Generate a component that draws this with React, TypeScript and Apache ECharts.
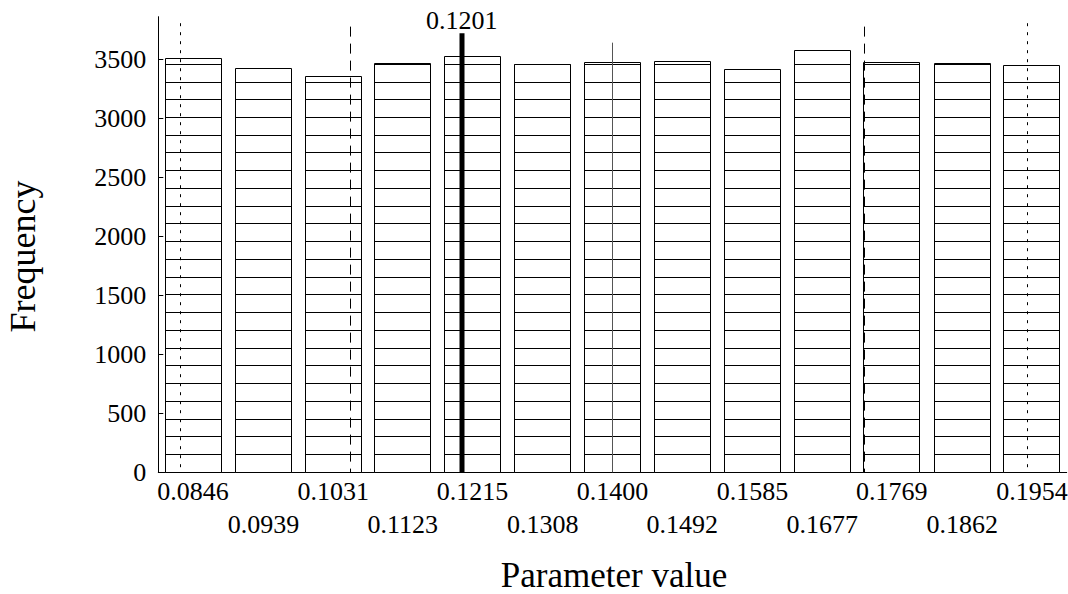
import React, { useEffect, useRef } from "react";
import * as echarts from "echarts";

// Bin centres (tick labels) and frequencies
const binCenters = [0.0846, 0.0939, 0.1031, 0.1123, 0.1215, 0.1308, 0.14, 0.1492, 0.1585, 0.1677, 0.1769, 0.1862, 0.1954];
const frequencies = [3503, 3420, 3356, 3460, 3522, 3459, 3471, 3483, 3415, 3576, 3475, 3466, 3446];
// height of each inner stacked block
const blockSize = 150.3;
const yTicks = [0, 500, 1000, 1500, 2000, 2500, 3000, 3500];

// Vertical reference lines
const refX = [0.0829, 0.1054, 0.1201, 0.14, 0.1733, 0.1948];
const refTop = [3805, 3776, 3720, 3640, 3776, 3805];
const refKind = ["dotted", "dashed", "thick", "thin", "dashed", "dotted"];
const refLabel = ["", "", "0.1201", "", "", ""];

const FONT = "Liberation Serif";

const snap = (v: number) => Math.round(v - 0.5) + 0.5;

export default function App() {
  const ref = useRef<HTMLDivElement>(null);
  useEffect(() => {
    const chart = echarts.init(ref.current!, null, { renderer: "svg" });
    const halfW = 0.0037;
    const xAxisBase = {
      type: "value",
      min: 0.08,
      max: 0.2,
      position: "bottom",
      splitLine: { show: false },
      axisLabel: {
        fontFamily: FONT,
        fontSize: 26,
        color: "#000",
        formatter: (v: number) => v.toFixed(4),
      },
    };
    chart.setOption({
      animation: false,
      backgroundColor: "#fff",
      grid: { left: 158.3, right: 1.3, top: 16.7, bottom: 121.7, outerBoundsMode: "none" },
      xAxis: [
        {
          ...xAxisBase,
          axisLine: { show: true, lineStyle: { color: "#000", width: 1 } },
          axisTick: { show: true, inside: true, length: 6, lineStyle: { color: "#000" }, customValues: binCenters },
          axisLabel: { ...xAxisBase.axisLabel, margin: 6, customValues: binCenters.filter((_, i) => i % 2 === 0) },
        },
        {
          ...xAxisBase,
          axisLine: { show: false },
          axisTick: { show: false },
          axisLabel: { ...xAxisBase.axisLabel, margin: 39, customValues: binCenters.filter((_, i) => i % 2 === 1) },
        },
      ],
      yAxis: {
        type: "value",
        min: 0,
        max: 3860,
        splitLine: { show: false },
        axisLine: { show: true, lineStyle: { color: "#000", width: 1 } },
        axisTick: { show: true, inside: true, length: 5, lineStyle: { color: "#000" }, customValues: yTicks },
        axisLabel: {
          fontFamily: FONT,
          fontSize: 26,
          color: "#000",
          margin: 12,
          customValues: yTicks,
          formatter: (v: number) => String(v),
        },
      },
      graphic: [
        {
          type: "text",
          x: 22.8,
          y: 256.5,
          rotation: Math.PI / 2,
          style: { text: "Frequency", font: `36px "${FONT}"`, fill: "#000", textAlign: "center", textVerticalAlign: "middle" },
        },
        {
          type: "text",
          x: 614,
          y: 575,
          style: { text: "Parameter value", font: `35px "${FONT}"`, fill: "#000", textAlign: "center", textVerticalAlign: "middle" },
        },
      ],
      series: [
        {
          type: "custom",
          xAxisIndex: 0,
          yAxisIndex: 0,
          encode: { x: 0, y: 1 },
          data: binCenters.map((c, i) => [c, frequencies[i]]),
          renderItem: (params: any, api: any) => {
            const x = api.value(0);
            const v = api.value(1);
            const p0 = api.coord([x - halfW, 0]);
            const p1 = api.coord([x + halfW, v]);
            const l = snap(p0[0]);
            const r = snap(p1[0]);
            const t = snap(p1[1]);
            const b = snap(p0[1]);
            const children: any[] = [
              {
                type: "rect",
                shape: { x: l, y: t, width: r - l, height: b - t },
                style: { fill: "#fff", stroke: "#000", lineWidth: 1 },
              },
            ];
            for (let k = 1; k * blockSize < v; k++) {
              const a = api.coord([x - halfW, k * blockSize]);
              const y = snap(a[1]);
              children.push({
                type: "line",
                shape: { x1: l, y1: y, x2: r, y2: y },
                style: { stroke: "#000", lineWidth: 1 },
              });
            }
            return { type: "group", children };
          },
        },
        {
          type: "custom",
          xAxisIndex: 0,
          yAxisIndex: 0,
          z: 5,
          encode: { x: 0, y: 1 },
          data: refX.map((x, i) => [x, refTop[i], i]),
          renderItem: (params: any, api: any) => {
            const i = api.value(2);
            const x = api.value(0);
            const top = api.coord([x, api.value(1)]);
            const bot = api.coord([x, 0]);
            const kind = refKind[i];
            const style: any = { stroke: "#000", lineWidth: 1 };
            if (kind === "dotted") style.lineDash = [3, 6];
            if (kind === "dashed") style.lineDash = [10, 7];
            if (kind === "thick") style.lineWidth = 5;
            if (kind === "thin") style.stroke = "#555";
            const px = kind === "thick" ? Math.round(top[0]) : snap(top[0]);
            const children: any[] = [
              { type: "line", shape: { x1: px, y1: top[1], x2: px, y2: bot[1] }, style },
            ];
            if (refLabel[i]) {
              children.push({
                type: "text",
                style: {
                  text: refLabel[i],
                  x: top[0],
                  y: top[1],
                  textAlign: "center",
                  textVerticalAlign: "bottom",
                  font: `26px "${FONT}"`,
                  fill: "#000",
                },
              });
            }
            return { type: "group", children };
          },
        },
      ],
    });
    return () => chart.dispose();
  }, []);
  return <div ref={ref} style={{ position: "fixed", left: 0, top: 0, width: 1068, height: 594 }} />;
}
